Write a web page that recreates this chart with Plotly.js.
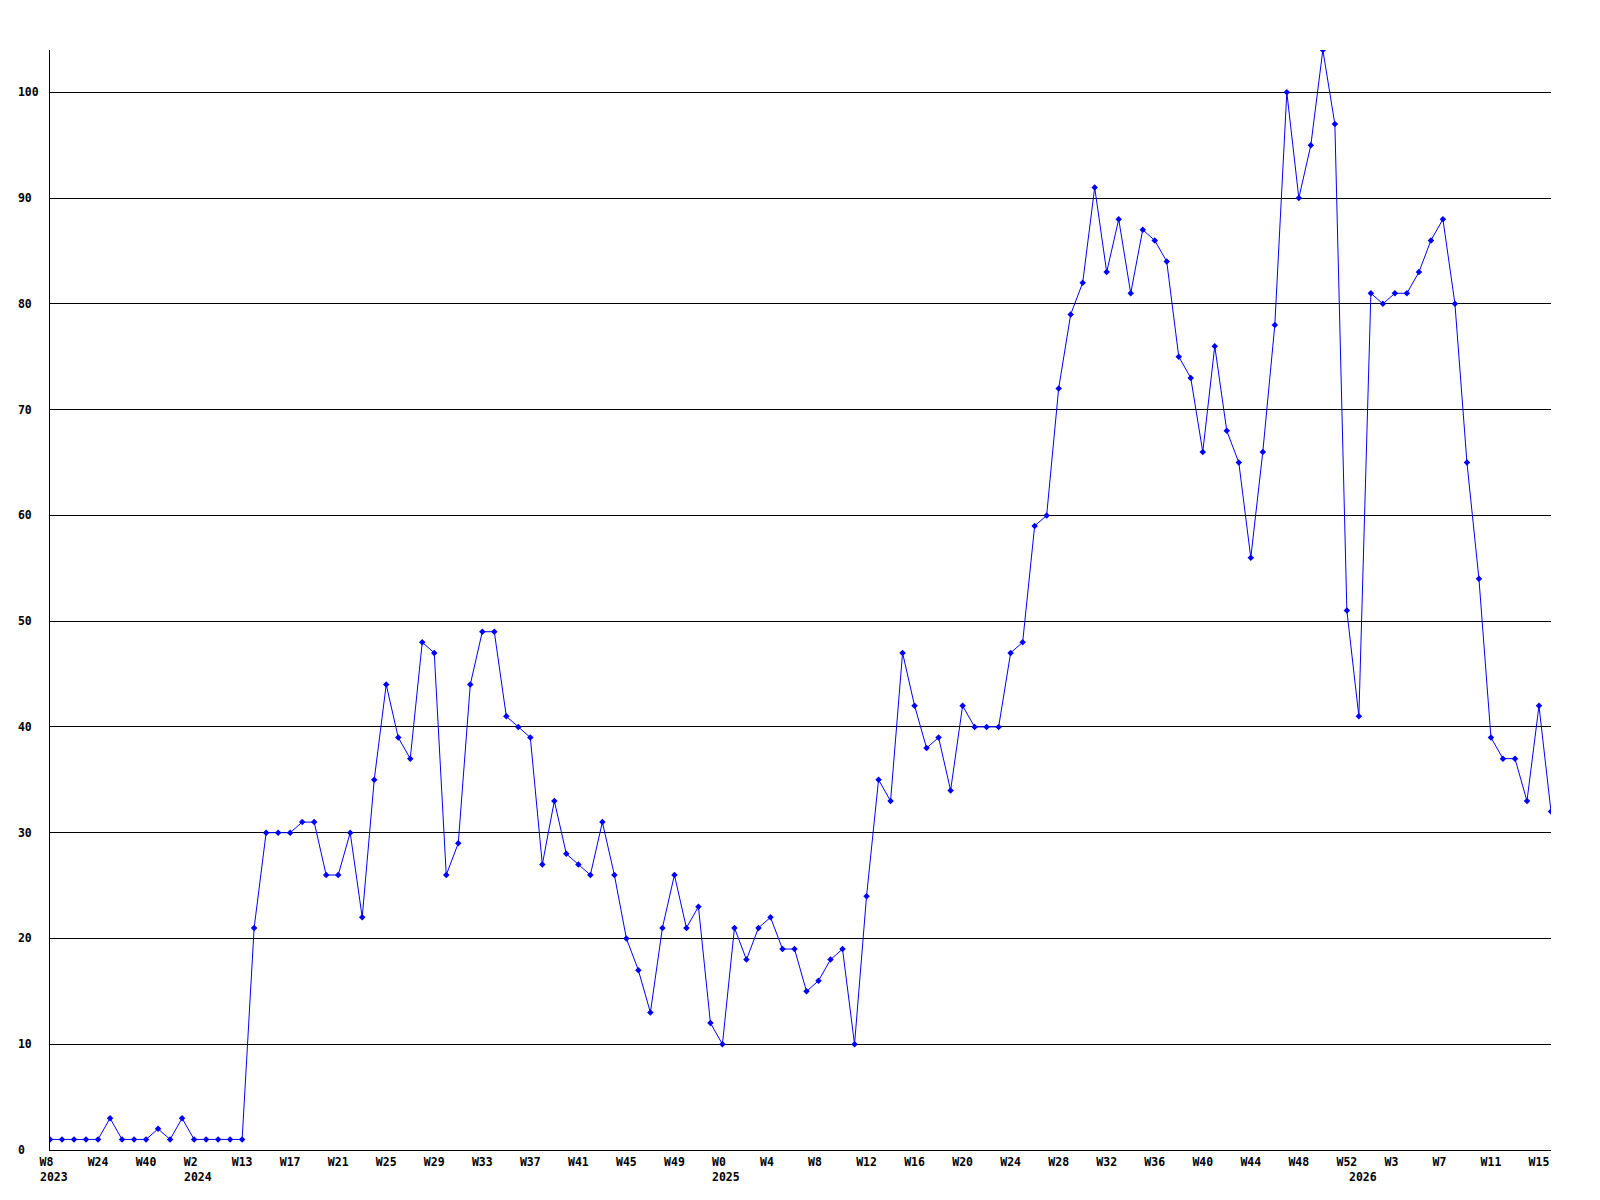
<!DOCTYPE html>
<html>
<head>
<meta charset="utf-8">
<script src="https://cdn.plot.ly/plotly-3.0.1.min.js"></script>
<style>
  html, body { margin: 0; padding: 0; background: #ffffff; }
  #chart { width: 1600px; height: 1200px; }
</style>
</head>
<body>
<div id="chart"></div>
<script>
// Weekly counts, one value per plotted point (left to right)
const values = [
  1, 1, 1, 1, 1, 3, 1, 1, 1, 2, 1, 3, 1, 1, 1, 1, 1,
  21, 30, 30, 30, 31, 31, 26, 26, 30, 22, 35, 44, 39, 37, 48, 47, 26, 29, 44,
  49, 49, 41, 40, 39, 27, 33, 28, 27, 26, 31, 26, 20, 17, 13, 21, 26, 21, 23,
  12, 10, 21, 18, 21, 22, 19, 19, 15, 16, 18, 19, 10, 24, 35, 33, 47, 42, 38,
  39, 34, 42, 40, 40, 40, 47, 48, 59, 60, 72, 79, 82, 91, 83, 88, 81, 87, 86,
  84, 75, 73, 66, 76, 68, 65, 56, 66, 78, 100, 90, 95, 104, 97, 51, 41, 81,
  80, 81, 81, 83, 86, 88, 80, 65, 54, 39, 37, 37, 33, 42, 32
];

// Week labels shown on every 4th point
const weekLabels = [
  "W8", "W24", "W40", "W2", "W13", "W17", "W21", "W25", "W29", "W33", "W37",
  "W41", "W45", "W49", "W0", "W4", "W8", "W12", "W16", "W20", "W24", "W28",
  "W32", "W36", "W40", "W44", "W48", "W52", "W3", "W7", "W11", "W15"
];
const weekLabelStep = 4;

// Year labels and the point at which each year starts
const yearLabels = ["2023", "2024", "2025", "2026"];
const yearStartPoint = [0, 12, 56, 109];

// Y axis ticks
const yTickValues = [0, 10, 20, 30, 40, 50, 60, 70, 80, 90, 100];
const yMax = 104;

const NBSP = "\u00a0";
function padRight(s, n) { while (s.length < n) s += NBSP; return s; }

const xIdx = values.map((_, i) => i);
const xTickVals = weekLabels.map((_, i) => i * weekLabelStep);
const xTickText = weekLabels.map(s => padRight(s, 3));
const yTickText = yTickValues.map(v => padRight(String(v), 3));

const font = { family: "DejaVu Sans Mono, monospace", size: 11.5, color: "#000000", weight: "bold" };

const trace = {
  type: "scatter",
  mode: "lines+markers",
  x: xIdx,
  y: values,
  line: { color: "#0000ff", width: 1 },
  marker: { color: "#0000ff", size: 5, symbol: "diamond" },
  hoverinfo: "x+y"
};

const annotations = yearLabels.map((t, i) => ({
  text: t,
  xref: "x", yref: "paper",
  x: yearStartPoint[i], y: 0,
  xanchor: "left", yanchor: "middle",
  xshift: -12, yshift: -27,
  showarrow: false,
  font: font
}));

const layout = {
  width: 1600, height: 1200,
  margin: { l: 50, r: 49, t: 50, b: 50, pad: 0 },
  paper_bgcolor: "#ffffff",
  plot_bgcolor: "#ffffff",
  showlegend: false,
  xaxis: {
    range: [0, values.length - 1],
    tickmode: "array",
    tickvals: xTickVals,
    ticktext: xTickText,
    tickfont: font,
    showgrid: false,
    zeroline: false,
    showline: true,
    linecolor: "#000000",
    linewidth: 1,
    ticks: "",
    ticklabelstandoff: 1
  },
  yaxis: {
    range: [0, yMax],
    tickmode: "array",
    tickvals: yTickValues,
    ticktext: yTickText,
    tickfont: font,
    showgrid: true,
    gridcolor: "#000000",
    gridwidth: 1,
    zeroline: false,
    showline: true,
    linecolor: "#000000",
    linewidth: 1,
    ticks: "",
    ticklabelstandoff: 8
  },
  annotations: annotations
};

Plotly.newPlot("chart", [trace], layout, { displayModeBar: false, staticPlot: true });
</script>
</body>
</html>
